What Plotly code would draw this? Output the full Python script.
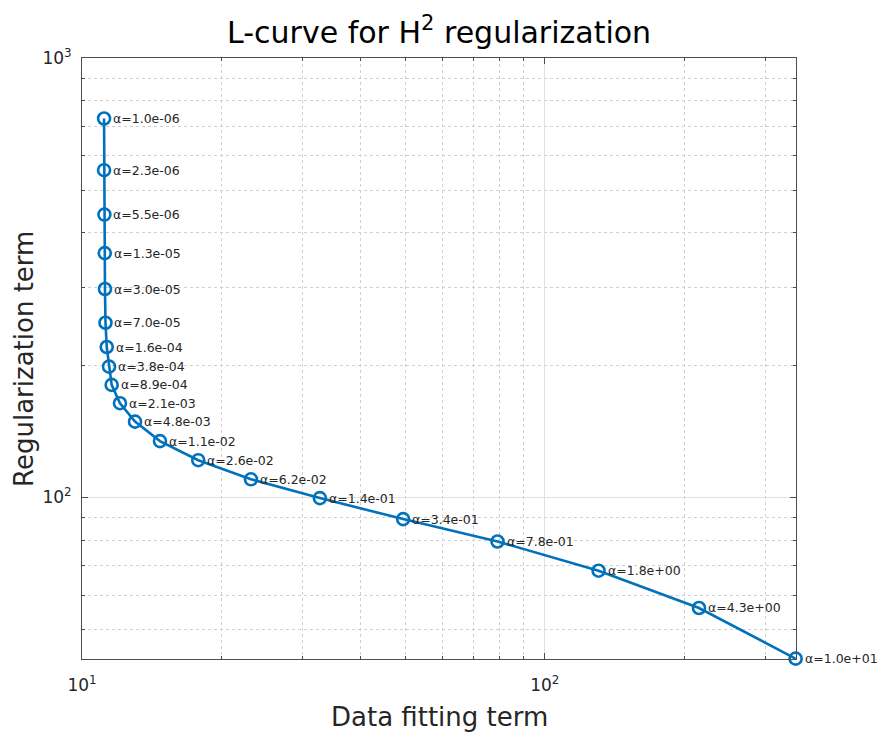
import numpy as np
import plotly.graph_objects as go

# L-curve samples: data fitting residual vs. regularization term, one per alpha
alpha = [1.0e-06, 2.3e-06, 5.5e-06, 1.3e-05, 3.0e-05, 7.0e-05, 1.6e-04,
         3.8e-04, 8.9e-04, 2.1e-03, 4.8e-03, 1.1e-02, 2.6e-02, 6.2e-02,
         1.4e-01, 3.4e-01, 7.8e-01, 1.8e+00, 4.3e+00, 1.0e+01]
data_fit = [11.16, 11.16, 11.18, 11.20, 11.21, 11.24, 11.31, 11.44, 11.59,
            12.08, 13.02, 14.74, 17.83, 23.18, 32.66, 49.43, 79.04, 130.7,
            215.4, 348.4]
reg_term = [728.4, 555.6, 440.2, 359.8, 298.1, 249.8, 220.0, 198.5, 180.4,
            163.9, 148.8, 134.4, 121.6, 110.0, 99.7, 89.3, 79.43, 68.15,
            56.06, 42.99]

x_major = [10, 100]
x_major_text = ["10<sup>1</sup>", "10<sup>2</sup>"]
x_minor = [20, 30, 40, 50, 60, 70, 80, 90, 200, 300]
y_major = [100, 1000]
y_major_text = ["10<sup>2</sup>", "10<sup>3</sup>"]
y_minor = [50, 60, 70, 80, 90, 200, 300, 400, 500, 600, 700, 800, 900]

FONT = "DejaVu Sans"
TXT = "#262626"
BLUE = "#0072BD"
AXIS = "#4d4d4d"
EPS = 0.0008  # tiny pad so the end point sits on the frame but stays drawn

fig = go.Figure()
fig.add_trace(go.Scatter(
    x=data_fit, y=reg_term, mode="lines+markers",
    line=dict(color=BLUE, width=2.6),
    marker=dict(symbol="circle-open", size=12, color=BLUE, line=dict(width=2.6)),
    cliponaxis=False, showlegend=False, hoverinfo="skip",
))

for a, xv, yv in zip(alpha, data_fit, reg_term):
    fig.add_annotation(
        x=np.log10(xv), y=np.log10(yv), xref="x", yref="y",
        text="α=" + format(a, ".1e"), showarrow=False,
        xanchor="left", yanchor="middle", xshift=8, borderpad=0,
        font=dict(family=FONT, size=12.5, color=TXT),
    )

axis_common = dict(
    type="log", showline=True, linecolor=AXIS, linewidth=1, mirror="allticks",
    ticks="inside", ticklen=6, tickcolor=AXIS, tickwidth=1,
    showgrid=True, gridcolor="#e0e0e0", gridwidth=1, zeroline=False,
    tickfont=dict(family=FONT, size=17, color=TXT),
)

minor_common = dict(ticks="inside", ticklen=3, tickcolor=AXIS, showgrid=True,
                    gridcolor="#d0d0d0", griddash="dot", gridwidth=1)

fig.update_xaxes(
    **axis_common,
    range=[1, np.log10(max(data_fit)) + EPS],
    tickmode="array", tickvals=x_major, ticktext=x_major_text,
    ticklabelstandoff=11,
    minor=dict(tickmode="array", tickvals=x_minor, **minor_common),
)
fig.update_yaxes(
    **axis_common,
    range=[np.log10(min(reg_term)) - EPS, 3],
    tickmode="array", tickvals=y_major, ticktext=y_major_text,
    ticklabelstandoff=6,
    minor=dict(tickmode="array", tickvals=y_minor, **minor_common),
)

# axis titles
fig.add_annotation(
    x=0.5, y=-0.097, xref="paper", yref="paper", text="Data fitting term",
    showarrow=False, xanchor="center", yanchor="middle",
    font=dict(family=FONT, size=26, color=TXT),
)
fig.add_annotation(
    x=-0.082, y=0.5, xref="paper", yref="paper", text="Regularization term",
    showarrow=False, xanchor="center", yanchor="middle", textangle=-90,
    font=dict(family=FONT, size=26, color=TXT),
)

fig.update_layout(
    width=880, height=733,
    margin=dict(l=82, r=84, t=58, b=74),
    paper_bgcolor="white", plot_bgcolor="white",
    title=dict(text="L-curve for H<sup>2</sup> regularization",
               x=0.499, xanchor="center", y=1 - 32 / 733, yanchor="middle",
               xref="container", yref="container",
               font=dict(family=FONT, size=30, color="#000000")),
)

fig.write_html("out.html")
